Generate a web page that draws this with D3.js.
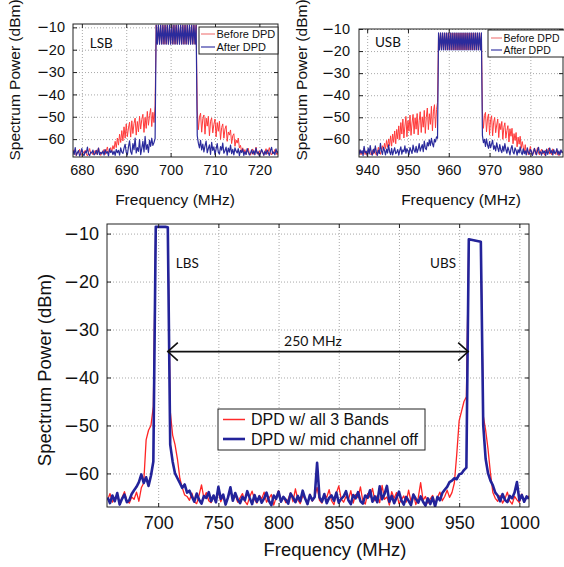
<!DOCTYPE html>
<html>
<head>
<meta charset="utf-8">
<script src="https://cdn.jsdelivr.net/npm/d3@7"></script>
<style>
  body { margin: 0; background: #fff; }
  svg { display: block; font-family: "Liberation Sans", Arial, sans-serif; }
  .grid line { stroke: #a8a8a8; stroke-dasharray: 1, 2; }
  .note { font-family: Lato, "Open Sans", sans-serif; fill: #111; }
</style>
</head>
<body>
<svg id="chart" width="564" height="567"></svg>
<script>
// ---------------- data (dBm) ----------------
// small panels: 0.25 MHz sampling, LSB starts at 678 MHz, USB at 938 MHz
const lsbStart = 678, usbStart = 938, fineStep = 0.25;
// big panel: 2 MHz sampling from 658 MHz
const bigStart = 658, bigStep = 2;

const xTicksLsb = [680, 690, 700, 710, 720];
const xTicksUsb = [940, 950, 960, 970, 980];
const xTicksBig = [700, 750, 800, 850, 900, 950, 1000];
const yTicks = [-60, -50, -40, -30, -20, -10];

// carrier comb (696.75 .. 705.75 MHz / 957.5 .. 968 MHz)
const lsbBand = [-9,-17.5,-9,-17.5,-9,-17.5,-9,-17.5,-9,-17.5,
  -9,-17.5,-9,-17.5,-9,-17.5,-9,-17.5,-9,-17.5,
  -9,-17.5,-9,-17.5,-9,-17.5,-9,-17.5,-9,-17.5,
  -9,-17.5,-9,-17.5,-9,-17.5,-9];
const usbBand = [-11.8,-19.5,-11.8,-19.5,-11.8,-19.5,-11.8,-19.5,-11.8,-19.5,
  -11.8,-19.5,-11.8,-19.5,-11.8,-19.5,-11.8,-19.5,-11.8,-19.5,
  -11.8,-19.5,-11.8,-19.5,-11.8,-19.5,-11.8,-19.5,-11.8,-19.5,
  -11.8,-19.5,-11.8,-19.5,-11.8,-19.5,-11.8,-19.5,-11.8,-19.5,
  -11.8,-19.5,-11.8];

// LSB, before DPD
const lsbBeforeLeft = [
  -66.0,-64.8,-66.9,-67.4,-65.8,-66.2,-64.5,
  -66.8,-67.2,-65.5,-66.3,-65.0,-66.7,-67.5,-66.1,-64.2,-66.4,
  -65.9,-67.0,-66.2,-65.1,-66.8,-65.4,-63.9,-66.5,-67.3,-65.7,
  -66.0,-64.6,-66.9,-65.3,-63.5,-66.2,-65.0,-63.8,-65.6,-62.9,
  -64.5,-61.0,-63.8,-59.5,-62.7,-57.8,-61.5,-56.2,
  -60.8,-54.5,-59.6,-53.2,-58.9,-55.0,-52.4,-59.1,-51.8,-57.5,
  -53.0,-50.6,-58.2,-52.1,-56.8,-49.8,-55.5,-51.2,-48.9,-57.0,
  -50.3,-55.2,-47.6,-53.8,-49.5,-46.3,-54.4,-48.0,-52.6,-45.2];
const lsbBeforeRight = [
  -47.0,-55.8,-50.2,-48.4,-56.9,-51.0,-49.2,-57.8,-50.6,-54.2,
  -49.8,-58.5,-52.0,-50.5,-57.2,-53.4,-51.0,-59.0,-52.6,-56.5,
  -52.0,-60.1,-54.8,-53.2,-59.6,-55.5,-54.0,-61.0,-56.8,-58.2,
  -55.9,-62.0,-58.5,-57.6,-63.2,-60.4,-61.8,-59.5,-64.0,
  -62.8,-65.5,-63.9,-66.2,-64.7,-66.8,-65.3,-64.1,-66.5,-67.2,
  -65.6,-64.4,-66.9,-65.8,-63.6,-66.3,-67.0,-65.2,-66.6,-64.9,
  -65.7,-67.3,-66.0,-64.3,-66.7,-65.5,-63.8,-66.1,-67.1,-65.4,
  -66.4,-64.6,-65.9,-67.0,-65.1];
// LSB, after DPD
const lsbAfterLeft = [
  -65.2,-66.9,-63.8,-67.2,-66.0,-65.1,-67.6,
  -66.4,-64.2,-66.9,-67.3,-65.5,-66.1,-63.6,-66.7,-67.4,-65.8,
  -66.2,-64.9,-67.1,-66.5,-65.0,-66.8,-64.0,-67.0,-65.9,-66.6,
  -65.3,-67.2,-64.7,-66.3,-65.6,-67.5,-64.4,-66.0,-65.2,-66.9,
  -65.4,-67.3,-64.6,-66.1,-65.0,-67.2,-63.9,-65.8,
  -66.4,-64.0,-62.3,-65.9,-67.1,-63.5,-60.8,-65.6,-66.8,-62.0,
  -64.7,-59.5,-66.2,-63.8,-65.5,-60.2,-66.9,-64.1,-61.0,-65.7,
  -58.8,-64.6,-62.5,-66.0,-60.4,-63.2,-59.6,-62.8,-61.5,-59.8];
const lsbAfterRight = [
  -58.5,-61.8,-63.9,-60.6,-64.8,-62.2,-65.7,-63.0,-60.9,-66.1,
  -64.2,-62.6,-66.8,-61.4,-65.0,-63.5,-67.0,-64.4,-62.0,-65.9,
  -66.7,-63.3,-64.9,-61.8,-66.3,-65.2,-63.6,-67.2,-64.0,-65.8,
  -62.7,-66.5,-64.6,-67.1,-63.9,-65.4,-66.2,-64.3,-67.4,-65.0,
  -66.0,-64.5,-67.3,-65.6,-66.9,-64.2,-65.8,-67.1,-66.3,-64.8,
  -66.6,-65.2,-67.0,-64.0,-66.4,-65.7,-67.5,-66.1,-64.6,-65.9,
  -67.2,-65.4,-66.8,-64.9,-66.0,-67.3,-65.1,-63.7,-66.5,-65.8,
  -67.0,-64.4,-66.2,-65.5];

// USB, before DPD
const usbBeforeLeft = [
  -66.2,-64.8,-67.0,-65.5,-66.6,-63.9,-66.9,-65.2,-67.3,-65.8,
  -64.5,-66.4,-67.1,-65.0,-66.7,-64.2,-65.9,-67.2,-66.0,-63.6,
  -65.4,-66.8,-64.7,-62.9,
  -65.0,-61.8,-64.2,-60.5,-63.6,-59.8,-62.9,-58.4,-63.1,-57.6,
  -61.4,-56.2,-62.0,-55.5,-59.8,-53.9,
  -60.2,-52.4,-57.6,-50.8,-59.4,-54.0,-49.6,-58.8,-51.5,-56.3,
  -49.0,-58.2,-52.6,-48.7,-57.5,-50.2,-55.4,-48.3,-58.0,-51.6,
  -47.5,-56.9,-49.8,-54.5,-46.9,-57.3,-50.0,-45.8,-55.6,-48.4,
  -53.2,-45.0,-56.1,-47.2,-44.3,-54.8,-46.5,-43.2];
const usbBeforeRight = [
  -47.5,-55.0,-49.2,-47.8,-56.6,-50.4,-48.5,-57.9,-51.0,-49.3,
  -58.4,-52.2,-50.1,-57.0,-53.5,-50.8,-59.2,-52.8,-55.6,-51.9,
  -60.0,-54.6,-52.5,-59.5,-56.0,-53.8,-61.2,-55.2,-58.6,-55.0,
  -62.0,-57.4,-60.5,-56.9,-63.4,-59.0,-62.2,-58.6,-64.1,-61.0,
  -63.5,-65.8,-62.4,-66.5,-64.6,-67.0,-65.3,-63.2,-66.4,-67.3,
  -65.1,-64.0,-66.8,-65.6,-63.8,-66.2,-67.1,-65.4,-64.5,-66.6,
  -65.9,-67.2,-64.8,-66.0,-65.2,-63.9,-66.7,-65.5,-67.0,-64.3,
  -66.1,-65.7,-66.9,-64.6,-65.3,-67.4,-66.0,-64.9,-65.8,-66.4];
// USB, after DPD
const usbAfterLeft = [
  -67.0,-64.8,-66.3,-65.1,-67.4,-63.2,-66.0,-65.5,-67.1,-64.0,
  -66.6,-62.8,-65.9,-67.2,-64.5,-66.1,-63.0,-65.7,-67.3,-64.9,
  -66.4,-61.8,-65.2,-66.8,-63.6,-65.0,-67.1,-64.4,-66.2,-62.5,
  -65.6,-66.9,-64.1,-67.0,-65.3,-63.8,-66.5,-65.9,-64.6,-67.2,
  -65.0,-63.4,-66.7,-64.8,-65.6,-62.9,-66.3,-64.2,-65.4,-66.9,
  -63.7,-65.1,-66.4,-62.6,-64.9,-65.8,-63.2,-66.0,-64.5,-61.9,
  -65.3,-63.8,-62.4,-65.6,-60.8,-63.9,-64.7,-61.5,-63.0,-60.2,
  -62.8,-59.6,-61.9,-63.4,-60.0,-61.2,-58.9,-59.5];
const usbAfterRight = [
  -58.2,-61.5,-60.0,-63.2,-59.8,-62.6,-64.1,-61.0,-63.8,-62.2,
  -60.4,-64.5,-62.9,-65.2,-61.6,-63.9,-65.6,-62.4,-64.8,-66.0,
  -63.1,-65.4,-61.9,-64.6,-66.3,-63.5,-65.1,-67.0,-64.2,-62.8,
  -65.7,-66.6,-63.9,-65.0,-67.2,-64.7,-66.1,-63.4,-65.8,-66.9,
  -64.3,-66.5,-65.2,-67.1,-63.8,-65.9,-66.7,-64.6,-65.4,-67.3,
  -66.0,-64.1,-65.6,-67.0,-65.1,-63.6,-66.3,-65.7,-67.2,-64.9,
  -66.1,-65.3,-67.4,-64.4,-66.8,-65.5,-63.9,-66.2,-65.0,-67.1,
  -64.7,-66.4,-65.8,-64.2,-66.9,-65.3,-67.0,-64.8,-66.0,-65.6];

// big panel, DPD with all 3 bands (658 .. 1008 MHz)
const bigAllBands = [
  -65.5,-64.2,-66.0,-65.1,-64.6,-66.3,-65.0,-63.8,-65.7,-66.2,-64.9,-65.4,-63.9,-65.8,
  -63.0,-62.0,-53.0,-51.0,-50.0,-46.0,
  -8.6,-8.6,-8.6,-8.6,-8.6,-8.7,
  -47.0,-52.0,-54.0,-57.0,-61.0,-63.0,-64.5,
  -64.8,-65.6,-64.1,-65.9,-66.3,-64.5,-62.4,-65.2,-64.0,-65.7,
  -66.1,-64.6,-65.3,-63.8,-65.9,-64.7,-66.4,-65.0,-63.5,-65.6,
  -64.3,-66.0,-65.1,-64.2,-65.8,-66.5,-64.9,-63.7,-65.4,-66.2,
  -64.6,-65.3,-63.9,-66.0,-65.2,-64.4,-66.6,-65.0,-63.6,-65.7,
  -64.8,-66.1,-65.4,-64.0,-65.9,-63.2,-65.5,-66.3,-64.7,-65.1,
  -66.4,-64.3,-65.8,-64.9,-62.9,-65.6,-66.2,-64.5,-65.0,-63.4,
  -65.7,-66.5,-64.1,-62.6,-65.3,-66.0,-64.8,-65.5,-63.6,-66.2,
  -64.4,-65.1,-62.8,-65.8,-66.4,-64.2,-65.0,-63.1,-65.7,-64.6,
  -66.1,-62.5,-65.4,-64.9,-66.6,-63.8,-65.2,-64.0,-66.3,-65.5,
  -64.7,-66.0,-63.5,-65.9,-64.3,-66.5,-65.1,-61.9,-65.6,-64.8,
  -66.2,-65.3,-64.6,-66.4,-65.0,-63.9,-65.7,-64.8,
  -63.5,-65.0,-64.0,-62.0,-56.0,-49.0,-47.0,-45.0,-44.0,
  -11.2,-11.3,-11.4,-11.5,-11.6,-11.7,
  -48.0,-51.0,-55.0,-60.0,-64.0,-65.2,
  -65.8,-64.6,-66.2,-65.3,-63.9,-65.7,-66.4,-64.8,-65.5,-66.1,-64.3,-65.9,-65.0,-64.7];
// big panel, DPD with mid channel off
const bigMidOff = [
  -65.0,-66.2,-64.6,-65.8,-64.1,-66.5,-65.3,-64.4,-66.0,-65.6,-64.3,
  -63.5,-62.8,-61.8,-60.2,-62.0,-60.8,-62.6,-60.5,-57.5,
  -8.6,-8.6,-8.6,-8.6,-8.6,-8.7,
  -54.0,-57.5,-60.0,-61.0,-62.0,-63.0,-62.3,-64.0,
  -63.6,-64.8,-65.9,-64.2,-65.5,-66.3,-64.7,-65.1,-63.9,-65.8,
  -64.6,-66.0,-62.8,-65.3,-64.4,-66.5,-65.0,-62.9,-65.7,-64.1,
  -65.4,-66.2,-64.9,-65.6,-63.7,-65.1,-66.4,-64.5,-65.9,-64.8,
  -66.1,-65.2,-64.0,-65.7,-66.6,-64.6,-65.3,-63.8,-65.9,-64.9,
  -65.5,-66.3,-64.2,-65.0,-66.0,-64.7,-65.8,-63.6,-65.2,-66.4,
  -64.5,-65.6,-64.9,-57.8,-65.0,-65.9,-64.3,-66.2,-65.1,-64.6,
  -65.7,-64.0,-66.1,-65.3,-64.8,-63.7,-65.6,-66.4,-64.5,-65.2,
  -63.9,-65.8,-66.3,-64.6,-65.1,-63.5,-65.9,-64.8,-66.0,-62.7,
  -65.4,-64.3,-62.6,-65.9,-64.7,-66.2,-65.0,-63.8,-65.6,-66.5,
  -64.9,-65.7,-66.6,-64.4,-65.3,-66.1,-64.8,-65.9,-66.7,-65.2,
  -66.4,-65.0,-66.9,-64.9,-65.6,-64.1,-63.4,
  -62.8,-61.8,-61.5,-61.0,-61.2,-60.2,-60.0,-59.3,-58.8,
  -11.2,-11.3,-11.4,-11.5,-11.6,-11.7,
  -50.0,-57.0,-60.0,-61.5,-62.5,-64.0,
  -64.6,-65.8,-64.3,-65.5,-66.0,-64.7,-65.2,-64.0,-61.8,-65.6,-64.5,-65.9,-64.8,-65.3];

const lsbBefore = lsbBeforeLeft.concat(lsbBand, lsbBeforeRight);
const lsbAfter = lsbAfterLeft.concat(lsbBand, lsbAfterRight);
const usbBefore = usbBeforeLeft.concat(usbBand, usbBeforeRight);
const usbAfter = usbAfterLeft.concat(usbBand, usbAfterRight);

// ---------------- drawing ----------------
const svg = d3.select("#chart");
const fmt = d => d < 0 ? "\u2212" + Math.abs(d) : String(d);

// matlab draws a long minus: put it in its own tspan with a wider glyph
function longMinus(sel) {
  sel.each(function () {
    const t = d3.select(this), s = t.text();
    if (s.charAt(0) !== "\u2212") return;
    t.text(null);
    t.append("tspan").style("font-family", "'DejaVu Sans', sans-serif").text("\u2212");
    t.append("tspan").text(s.slice(1));
  });
}

function drawPanel(p) {
  const x = d3.scaleLinear().domain(p.xDomain).range([p.left, p.left + p.width]);
  const y = d3.scaleLinear().domain(p.yDomain).range([p.top + p.height, p.top]);
  const g = svg.append("g");
  const bottom = p.top + p.height, right = p.left + p.width;

  g.append("clipPath").attr("id", "clip-" + p.id)
    .append("rect").attr("x", p.left).attr("y", p.top)
    .attr("width", p.width).attr("height", p.height);

  // dotted grid
  g.append("g").attr("class", "grid").attr("transform", `translate(0,${bottom})`)
    .call(d3.axisBottom(x).tickValues(p.xTicks).tickSize(-p.height).tickFormat(""))
    .call(s => s.select(".domain").remove());
  g.append("g").attr("class", "grid").attr("transform", `translate(${p.left},0)`)
    .call(d3.axisLeft(y).tickValues(yTicks).tickSize(-p.width).tickFormat(""))
    .call(s => s.select(".domain").remove());

  const plot = g.append("g").attr("clip-path", `url(#clip-${p.id})`);
  p.series.forEach(s => {
    const line = d3.line()
      .x((d, i) => x(s.start + i * s.step))
      .y(d => y(d));
    plot.append("path").datum(s.values)
      .attr("fill", "none")
      .attr("stroke", s.color)
      .attr("stroke-width", s.width)
      .attr("stroke-linejoin", "round")
      .attr("d", line);
  });

  // box with inward ticks (matlab style)
  const tk = 4;
  const axes = [
    [d3.axisBottom(x).tickValues(p.xTicks).tickFormat(fmt).tickPadding(p.xPad), `translate(0,${bottom})`],
    [d3.axisTop(x).tickValues(p.xTicks).tickFormat(""), `translate(0,${p.top})`],
    [d3.axisLeft(y).tickValues(yTicks).tickFormat(fmt).tickPadding(p.yPad), `translate(${p.left},0)`],
    [d3.axisRight(y).tickValues(yTicks).tickFormat(""), `translate(${right},0)`]
  ];
  axes.forEach(([ax, tr]) => {
    g.append("g").attr("transform", tr)
      .call(ax.tickSizeInner(-tk).tickSizeOuter(0))
      .call(s => s.select(".domain").remove())
      .call(s => s.selectAll("line").attr("stroke", "#222"))
      .call(s => s.selectAll("text")
        .attr("fill", "#111")
        .style("font-size", p.tickFont + "px")
        .style("font-family", "'Liberation Sans', Arial, sans-serif")
        .call(longMinus));
  });
  g.append("rect").attr("x", p.left).attr("y", p.top)
    .attr("width", p.width).attr("height", p.height)
    .attr("fill", "none").attr("stroke", "#222").attr("stroke-width", 1);

  // axis titles
  g.append("text")
    .attr("x", p.xLabelX).attr("y", p.xLabelY)
    .attr("text-anchor", "middle").attr("dy", "0.35em")
    .style("font-size", p.labelFont + "px").attr("fill", "#111")
    .text("Frequency (MHz)");
  g.append("text")
    .attr("transform", `translate(${p.yLabelX},${p.yLabelY}) rotate(-90)`)
    .attr("text-anchor", "middle").attr("dy", "0.35em")
    .style("font-size", p.labelFont + "px").attr("fill", "#111")
    .text("Spectrum Power (dBm)");

  // legend
  const L = p.legend;
  const lg = g.append("g");
  lg.append("rect").attr("x", L.x).attr("y", L.y).attr("width", L.w).attr("height", L.h)
    .attr("fill", "#fff").attr("stroke", "#222").attr("stroke-width", 1);
  L.labels.forEach((t, i) => {
    const yy = L.y + L.rows[i];
    lg.append("line").attr("x1", L.x + L.l0).attr("x2", L.x + L.l1)
      .attr("y1", yy).attr("y2", yy)
      .attr("stroke", L.colors[i]).attr("stroke-width", L.lw[i]);
    lg.append("text").attr("x", L.x + L.tx).attr("y", yy).attr("dy", "0.35em")
      .style("font-size", L.font + "px").attr("fill", "#111").text(t);
  });
  return { x, y, g };
}

const A = drawPanel({
  id: "lsb", left: 73, top: 24, width: 205, height: 133,
  xDomain: [678, 724.2], yDomain: [-68, -8.5], xTicks: xTicksLsb,
  xPad: 8, yPad: 8, tickFont: 14.5, labelFont: 15.5,
  xLabelX: 175, xLabelY: 200, yLabelX: 15, yLabelY: 80,
  series: [
    { values: lsbBefore, start: lsbStart, step: fineStep, color: "#ff3a3a", width: 1 },
    { values: lsbAfter, start: lsbStart, step: fineStep, color: "#2b2b9c", width: 1.2 }
  ],
  legend: { x: 199, y: 27, w: 79, h: 27, rows: [7, 20], l0: 2, l1: 16, tx: 17.5, font: 11,
    labels: ["Before DPD", "After DPD"], colors: ["#f08080", "#3a3aa6"], lw: [1.2, 1.2] }
});
const B = drawPanel({
  id: "usb", left: 359, top: 29, width: 204, height: 128,
  xDomain: [938, 988], yDomain: [-68, -10], xTicks: xTicksUsb,
  xPad: 8, yPad: 9, tickFont: 14.5, labelFont: 15.5,
  xLabelX: 461, xLabelY: 200, yLabelX: 302, yLabelY: 80,
  series: [
    { values: usbBefore, start: usbStart, step: fineStep, color: "#ff3a3a", width: 1 },
    { values: usbAfter, start: usbStart, step: fineStep, color: "#2b2b9c", width: 1.2 }
  ],
  legend: { x: 488, y: 30, w: 77, h: 27, rows: [8, 20], l0: 3, l1: 14, tx: 15.5, font: 10.5,
    labels: ["Before DPD", "After DPD"], colors: ["#f08080", "#3a3aa6"], lw: [1.2, 1.2] }
});
const C = drawPanel({
  id: "big", left: 107, top: 224, width: 422, height: 283,
  xDomain: [657.5, 1008], yDomain: [-67, -8], xTicks: xTicksBig,
  xPad: 9, yPad: 8, tickFont: 18, labelFont: 18.5,
  xLabelX: 335, xLabelY: 550, yLabelX: 45, yLabelY: 370,
  series: [
    { values: bigAllBands, start: bigStart, step: bigStep, color: "#ff2424", width: 1.3 },
    { values: bigMidOff, start: bigStart, step: bigStep, color: "#23239a", width: 2.6 }
  ],
  legend: { x: 218, y: 409, w: 207, h: 41, rows: [10.5, 30], l0: 5, l1: 27, tx: 33, font: 16,
    labels: ["DPD w/ all 3 Bands", "DPD w/ mid channel off"], colors: ["#ff2a2a", "#23239a"], lw: [1.5, 2.6] }
});

// band labels in the small panels
A.g.append("text").attr("class", "note").attr("x", A.x(681.8)).attr("y", A.y(-17))
  .attr("dy", "0.35em").style("font-size", "13.5px").text("LSB");
B.g.append("text").attr("class", "note").attr("x", B.x(941.9)).attr("y", B.y(-16.2))
  .attr("dy", "0.35em").style("font-size", "13.5px").text("USB");

// annotations in the big panel
C.g.append("text").attr("class", "note").attr("x", C.x(714.6)).attr("y", C.y(-16.1))
  .attr("dy", "0.35em").style("font-size", "13.5px").text("LBS");
C.g.append("text").attr("class", "note").attr("x", C.x(947.4)).attr("y", C.y(-16.1))
  .attr("dy", "0.35em").attr("text-anchor", "end").style("font-size", "13.5px").text("UBS");
C.g.append("text").attr("class", "note").attr("x", C.x(828.6)).attr("y", C.y(-32.5))
  .attr("dy", "0.35em").attr("text-anchor", "middle").style("font-size", "14px").text("250 MHz");

const ax1 = C.x(708), ax2 = C.x(957.5), ay = C.y(-34.6);
const arrow = C.g.append("g").attr("fill", "none").attr("stroke", "#111").attr("stroke-width", 1.6);
arrow.append("line").attr("x1", ax1).attr("x2", ax2).attr("y1", ay).attr("y2", ay);
arrow.append("path").attr("d", `M${ax1 + 10},${ay - 9}L${ax1},${ay}L${ax1 + 10},${ay + 9}`);
arrow.append("path").attr("d", `M${ax2 - 10},${ay - 9}L${ax2},${ay}L${ax2 - 10},${ay + 9}`);
</script>
</body>
</html>
